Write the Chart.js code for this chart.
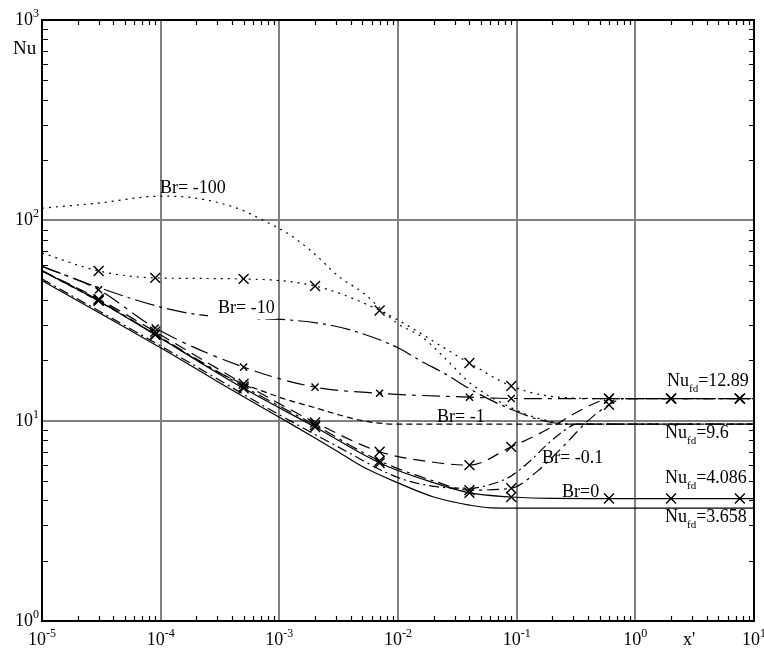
<!DOCTYPE html>
<html>
<head>
<meta charset="utf-8">
<script src="https://cdn.jsdelivr.net/npm/chart.js@4/dist/chart.umd.min.js"></script>
<style>
  html, body { margin: 0; padding: 0; background: #fff; }
  #wrap { width: 764px; height: 651px; }
</style>
</head>
<body>
<div id="wrap"><canvas id="c" width="764" height="651"></canvas></div>
<script>
// Local Nusselt number along the duct, x' = dimensionless axial distance.
// "T" curves: constant wall temperature; "H" curves: constant wall heat flux (x markers).

const MARK_X = [3e-5, 9e-5, 5e-4, 2e-3, 7e-3, 0.04, 0.09, 0.6, 2, 7.6];

// Br = 0
const X_T_BR0  = [1e-5, 3e-5, 1e-4, 3e-4, 1e-3, 2e-3, 3e-3, 5e-3, 1e-2, 2e-2, 4e-2, 6e-2, 0.1, 1, 10];
const NU_T_BR0 = [50, 34.7, 23.1, 15.7, 10.4, 8.2, 7.1, 5.9, 4.89, 4.16, 3.79, 3.67, 3.658, 3.658, 3.658];
const X_H_BR0  = [1e-5, 3e-5, 9e-5, 5e-4, 2e-3, 7e-3, 0.02, 0.04, 0.09, 0.2, 0.6, 2, 7.6, 10];
const NU_H_BR0 = [56, 39.6, 26.8, 14.5, 9.3, 6.15, 4.9, 4.36, 4.16, 4.09, 4.086, 4.086, 4.086, 4.086];

// Br = -0.1
const X_T_BR01  = [1e-5, 1e-4, 1e-3, 3e-3, 1e-2, 2e-2, 4e-2, 6e-2, 9e-2, 0.13, 0.18, 0.25, 0.32, 1, 10];
const NU_T_BR01 = [51, 23.6, 10.7, 7.5, 5.2, 4.7, 4.6, 4.8, 5.3, 6.3, 7.6, 8.9, 9.6, 9.6, 9.6];
const X_H_BR01  = [1e-5, 3e-5, 9e-5, 5e-4, 2e-3, 7e-3, 0.02, 0.04, 0.09, 0.15, 0.25, 0.4, 0.6, 0.8, 2, 7.6, 10];
const NU_H_BR01 = [56, 40, 27, 14.8, 9.5, 6.3, 5.0, 4.5, 4.6, 5.6, 7.5, 10, 12.0, 12.89, 12.89, 12.89, 12.89];

// Br = -1
const X_T_BR1  = [1e-5, 3e-5, 1e-4, 3e-4, 1e-3, 2e-3, 3e-3, 5e-3, 1e-2, 0.1, 10];
const NU_T_BR1 = [56, 39.5, 26, 17.5, 13.1, 11.6, 10.8, 10.0, 9.6, 9.6, 9.6];
const X_H_BR1  = [1e-5, 3e-5, 9e-5, 5e-4, 2e-3, 7e-3, 0.02, 0.04, 0.09, 0.137, 0.21, 0.31, 0.5, 0.6, 2, 7.6, 10];
const NU_H_BR1 = [56, 40.5, 27.8, 15.3, 9.8, 7.0, 6.2, 6.0, 7.4, 8.3, 9.5, 10.9, 12.5, 12.89, 12.89, 12.89, 12.89];

// Br = -10
const X_T_BR10  = [1e-5, 3.1e-5, 1e-4, 2.15e-4, 5.6e-4, 1.23e-3, 2.66e-3, 4.8e-3, 1e-2, 1.5e-2, 2.6e-2, 3.8e-2, 6e-2, 9.3e-2, 0.156, 0.28, 1, 10];
const NU_T_BR10 = [59, 45.9, 36.9, 33.7, 32.4, 31.8, 30.0, 27.4, 23.1, 20.1, 16.9, 14.7, 12.7, 11.3, 10.1, 9.6, 9.6, 9.6];
const X_H_BR10  = [1e-5, 3e-5, 9e-5, 5e-4, 2e-3, 7e-3, 0.04, 0.09, 0.6, 2, 7.6, 10];
const NU_H_BR10 = [59, 45, 29, 18.5, 14.7, 13.7, 13.1, 12.9, 12.89, 12.89, 12.89, 12.89];

// Br = -100
const X_T_BR100  = [1e-5, 3e-5, 1e-4, 1.8e-4, 4.4e-4, 7.3e-4, 1.16e-3, 1.9e-3, 3.2e-3, 5.1e-3, 9.8e-3, 1.6e-2, 2.6e-2, 4e-2, 9e-2, 0.15, 0.3, 1, 10];
const NU_T_BR100 = [115, 122, 132, 130, 115, 100, 86.5, 69.5, 52.2, 43.4, 30.7, 26.1, 20, 15.5, 11.6, 10.3, 9.6, 9.6, 9.6];
const X_H_BR100  = [1e-5, 3e-5, 9e-5, 5e-4, 2e-3, 7e-3, 0.04, 0.09, 0.2, 0.6, 2, 7.6, 10];
const NU_H_BR100 = [68.7, 55.9, 51.6, 51.0, 47.0, 35.5, 19.4, 14.9, 13.2, 12.89, 12.89, 12.89, 12.89];

const X_DECADES = [-5, -4, -3, -2, -1, 0, 1];
const Y_DECADES = [0, 1, 2, 3];

const FONT = '"Liberation Serif", "Times New Roman", serif';

function pts(xs, ys) { return xs.map((x, i) => ({ x: x, y: ys[i] })); }
function marks(xs, r) { return xs.map(x => (MARK_X.indexOf(x) >= 0 ? r : 0)); }

function curve(xs, ys, dash, markR) {
  return {
    data: pts(xs, ys),
    borderColor: '#000',
    borderWidth: 1.2,
    borderDash: dash,
    cubicInterpolationMode: 'monotone',
    fill: false,
    pointStyle: 'crossRot',
    pointRadius: markR ? marks(xs, markR) : 0,
    pointBorderColor: '#000',
    pointBorderWidth: 1.4,
    pointHoverRadius: 0
  };
}

const DOT = [2, 5];
const datasets = [
  curve(X_T_BR0, NU_T_BR0, [], 0),
  curve(X_H_BR0, NU_H_BR0, [], 7),
  curve(X_T_BR01, NU_T_BR01, [10, 4, 2, 4], 0),
  curve(X_H_BR01, NU_H_BR01, [12, 5, 3, 5], 7),
  curve(X_T_BR1, NU_T_BR1, [6, 4], 0),
  curve(X_H_BR1, NU_H_BR1, [12, 7], 7),
  curve(X_T_BR10, NU_T_BR10, [20, 5, 3, 5], 0),
  curve(X_H_BR10, NU_H_BR10, [18, 6, 4, 6], 5),
  curve(X_T_BR100, NU_T_BR100, DOT, 0),
  curve(X_H_BR100, NU_H_BR100, DOT, 7)
];

// Curve annotations: text, left x, baseline y, opaque background
const CURVE_LABELS = [
  ['Br= -100', 160, 193, false],
  ['Br= -10', 218, 313, true],
  ['Br= -1', 437, 422, false],
  ['Br= -0.1', 542, 463, false],
  ['Br=0', 562, 497, false]
];
// Fully developed values: value, left x, baseline y
const FD_LABELS = [
  ['12.89', 667, 386],
  ['9.6', 665, 438],
  ['4.086', 665, 483],
  ['3.658', 665, 522]
];

const framePlugin = {
  id: 'frame',
  afterDraw(chart) {
    const ctx = chart.ctx;
    const a = chart.chartArea;
    const xs = chart.scales.x, ys = chart.scales.y;
    ctx.save();
    ctx.strokeStyle = '#000';
    // minor ticks, pointing inwards on all four sides
    ctx.lineWidth = 1.2;
    ctx.beginPath();
    for (let d = -5; d < 1; d++) {
      for (let m = 2; m <= 9; m++) {
        const px = Math.round(xs.getPixelForValue(m * Math.pow(10, d))) + 0.5;
        ctx.moveTo(px, a.bottom); ctx.lineTo(px, a.bottom - 5);
        ctx.moveTo(px, a.top); ctx.lineTo(px, a.top + 5);
      }
    }
    for (let d = 0; d < 3; d++) {
      for (let m = 2; m <= 9; m++) {
        const py = Math.round(ys.getPixelForValue(m * Math.pow(10, d))) + 0.5;
        ctx.moveTo(a.left, py); ctx.lineTo(a.left + 6, py);
        ctx.moveTo(a.right, py); ctx.lineTo(a.right - 5, py);
      }
    }
    ctx.stroke();
    // frame
    ctx.lineWidth = 2;
    ctx.strokeRect(a.left, a.top, a.right - a.left, a.bottom - a.top);

    // decade tick labels
    ctx.fillStyle = '#000';
    ctx.textBaseline = 'alphabetic';
    X_DECADES.forEach(e => {
      const px = xs.getPixelForValue(Math.pow(10, e));
      ctx.font = '18px ' + FONT;
      const w1 = ctx.measureText('10').width;
      ctx.font = '12px ' + FONT;
      const es = e < 0 ? '-' + (-e) : String(e);
      const w2 = ctx.measureText(es).width;
      const x0 = px - (w1 + w2) / 2;
      ctx.font = '18px ' + FONT;
      ctx.textAlign = 'left';
      ctx.fillText('10', x0, 645);
      ctx.font = '12px ' + FONT;
      ctx.fillText(es, x0 + w1, 637);
    });
    Y_DECADES.forEach(e => {
      const py = ys.getPixelForValue(Math.pow(10, e));
      ctx.font = '12px ' + FONT;
      const es = String(e);
      const w2 = ctx.measureText(es).width;
      ctx.textAlign = 'left';
      ctx.fillText(es, 39 - w2, py - 3);
      ctx.font = '18px ' + FONT;
      ctx.textAlign = 'right';
      ctx.fillText('10', 39 - w2, py + 5);
    });
    ctx.textAlign = 'left';
    ctx.font = '19px ' + FONT;
    ctx.fillText('Nu', 13, 54);
    ctx.font = '18px ' + FONT;
    ctx.fillText("x'", 683, 645);

    // curve annotations
    CURVE_LABELS.forEach(l => {
      ctx.font = '18px ' + FONT;
      if (l[3]) {
        const w = ctx.measureText(l[0]).width;
        ctx.fillStyle = '#fff';
        ctx.fillRect(l[1] - 10, l[2] - 14, w + 12, 20);
        ctx.fillStyle = '#000';
      }
      ctx.fillText(l[0], l[1], l[2]);
    });
    FD_LABELS.forEach(l => {
      ctx.font = '18px ' + FONT;
      ctx.fillText('Nu', l[1], l[2]);
      const w = ctx.measureText('Nu').width;
      ctx.font = '11px ' + FONT;
      ctx.fillText('fd', l[1] + w, l[2] + 6);
      const w2 = ctx.measureText('fd').width;
      ctx.font = '18px ' + FONT;
      ctx.fillText('=' + l[0], l[1] + w + w2, l[2]);
    });
    ctx.restore();
  }
};

new Chart(document.getElementById('c'), {
  type: 'line',
  data: { datasets: datasets },
  options: {
    responsive: false,
    animation: false,
    devicePixelRatio: 1,
    layout: { padding: { left: 42, right: 10, top: 20, bottom: 30 } },
    plugins: { legend: { display: false }, tooltip: { enabled: false } },
    scales: {
      x: {
        type: 'logarithmic', min: 1e-5, max: 10,
        ticks: { display: false },
        border: { display: false },
        grid: {
          drawTicks: false,
          lineWidth: 2,
          color: c => (c.tick && c.tick.major ? '#808080' : 'rgba(0,0,0,0)')
        }
      },
      y: {
        type: 'logarithmic', min: 1, max: 1000,
        ticks: { display: false },
        border: { display: false },
        grid: {
          drawTicks: false,
          lineWidth: 2,
          color: c => (c.tick && c.tick.major ? '#808080' : 'rgba(0,0,0,0)')
        }
      }
    }
  },
  plugins: [framePlugin]
});
</script>
</body>
</html>
